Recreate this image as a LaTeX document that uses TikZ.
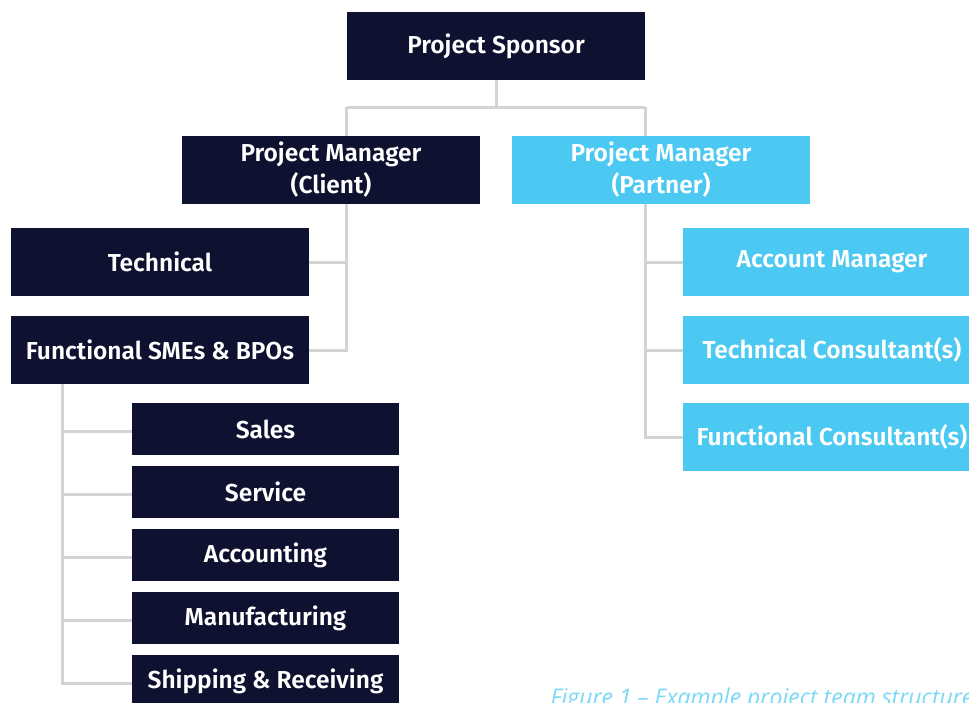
\documentclass[tikz,border=0pt]{standalone}
\usepackage{fontspec}
\setmainfont{Fira Sans}[BoldFont={Fira Sans SemiBold}]
\newfontfamily\capfont{Open Sans}
\usetikzlibrary{backgrounds}
\definecolor{navy}{HTML}{0F1130}
\definecolor{sky}{HTML}{4BC9F2}
\definecolor{capblue}{HTML}{7AD8F7}
\definecolor{linegray}{HTML}{D4D4D4}
\tikzset{
  box/.style    = {fill=navy, text=white, font=\bfseries\fontsize{24.5}{32}\selectfont,
                   minimum width=298pt, minimum height=68pt, inner sep=0pt, align=center},
  partner/.style = {box, fill=sky},
  subbox/.style = {box, minimum width=267pt, minimum height=52pt},
  link/.style   = {draw=linegray, line width=3pt}
}
\begin{document}
\begin{tikzpicture}[x=1pt, y=-1pt]
    \useasboundingbox (0,0) rectangle (969,702);
    \clip (0,0) rectangle (969,702);
    \node[box]     (spon) at (496,46)  {Project Sponsor};
    \node[box]     (pmc)  at (331,170) {Project Manager\\(Client)};
    \node[partner] (pmp)  at (661,170) {Project Manager\\(Partner)};
    % client side
    \node[box]     (tech) at (160,262) {Technical};
    \node[box]     (func) at (160,350) {Functional SMEs \& BPOs};
    \foreach \name/\txt [count=\i] in {sales/Sales, serv/Service, acct/Accounting,
        manu/Manufacturing, ship/Shipping \& Receiving}{
      \node[subbox] (\name) at (265.5, 366 + 63*\i) {\txt};
    }
    % partner side
    \node[partner] (acm)  at (832,262) {Account Manager};
    \node[partner] (tcon) at (832,350) {Technical Consultant(s)};
    \node[partner] (fcon) at (832,437) {Functional Consultant(s)};
    \node[anchor=base west, text=capblue, font=\capfont\itshape\fontsize{23}{27}\selectfont]
      (cap) at (547,705) {Figure 1 – Example project team structure};
    \begin{pgfonlayer}{background}
      \draw[link] (spon.south) -- ++(0,27) coordinate (fork);
      \draw[link] (spon.west |- fork) -- (spon.east |- fork);
      \draw[link] (spon.west |- fork) |- (func.east);
      \draw[link] (tech.east) -- (spon.west |- tech.east);
      \draw[link] (spon.east |- fork) |- (fcon.west);
      \foreach \n in {acm, tcon}
        \draw[link] (\n.west) -- (spon.east |- \n.west);
      \coordinate (spine) at ([xshift=52pt]func.south west);
      \foreach \n in {sales, serv, acct, manu, ship}
        \draw[link] (spine) |- ([yshift=-2pt]\n.west);
    \end{pgfonlayer}
\end{tikzpicture}
\end{document}
